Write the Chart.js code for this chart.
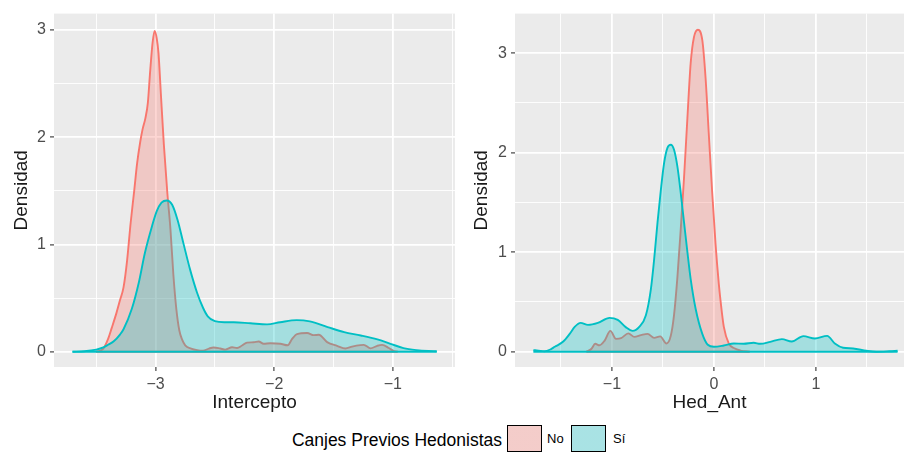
<!DOCTYPE html>
<html>
<head>
<meta charset="utf-8">
<script src="https://cdn.jsdelivr.net/npm/chart.js@4.4.1/dist/chart.umd.min.js"></script>
<style>
  html, body { margin: 0; padding: 0; background: #ffffff; }
  #wrap { position: relative; width: 904px; height: 462px; overflow: hidden;
          font-family: "Liberation Sans", Arial, Helvetica, sans-serif; }
  #c1 { position: absolute; left: 0; top: 0; }
  #c2 { position: absolute; left: 460px; top: 0; }
  .lg { position: absolute; white-space: nowrap; color: #000; }
  .lg-title { font-size: 17.5px; right: 402px; top: 430px; line-height: 20px; }
  .lg-key { width: 33px; height: 25px; top: 425px; border: 1.5px solid #000; }
  .lg-lab { font-size: 13px; top: 431px; line-height: 16px; }
</style>
</head>
<body>
<div id="wrap">
  <canvas id="c1" width="460" height="415"></canvas>
  <canvas id="c2" width="444" height="415"></canvas>
  <div id="legend"></div>
</div>
<script>
// Series colours (ggplot2 default hue palette) and fill transparency
const colNo = '#F8766D';
const colSi = '#00BFC4';
const fillNo = 'rgba(248,118,109,0.3)';
const fillSi = 'rgba(0,191,196,0.3)';

const groups = ['No', 'Sí'];
const legendTitle = 'Canjes Previos Hedonistas';

// Density of Intercepto, group "No"
const interNoX = [-3.50, -3.44, -3.40, -3.37, -3.33, -3.30, -3.27, -3.24, -3.21, -3.18, -3.155, -3.13, -3.11,
  -3.085, -3.065, -3.045, -3.025, -3.008, -2.99, -2.975, -2.955, -2.93, -2.90, -2.875, -2.85, -2.825, -2.80,
  -2.775, -2.75, -2.70, -2.65, -2.60, -2.55, -2.51, -2.454, -2.412, -2.355, -2.313, -2.271, -2.229, -2.173,
  -2.131, -2.089, -2.032, -1.948, -1.886, -1.849, -1.807, -1.722, -1.667, -1.624, -1.554, -1.47, -1.40,
  -1.343, -1.273, -1.245, -1.188, -1.132, -1.09, -1.034, -0.99, -0.96];
const interNoD = [0.00, 0.03, 0.12, 0.22, 0.36, 0.48, 0.60, 0.85, 1.20, 1.50, 1.76, 1.95, 2.07,
  2.18, 2.32, 2.62, 2.88, 2.99, 2.92, 2.78, 2.40, 1.93, 1.47, 1.15, 0.72, 0.40, 0.20,
  0.11, 0.06, 0.03, 0.015, 0.01, 0.03, 0.04, 0.03, 0.02, 0.042, 0.035, 0.058, 0.085, 0.088,
  0.096, 0.074, 0.08, 0.075, 0.06, 0.12, 0.165, 0.175, 0.155, 0.158, 0.09, 0.055, 0.03,
  0.048, 0.062, 0.064, 0.032, 0.055, 0.064, 0.035, 0.006, 0.0];

// Density of Intercepto, group "Sí"
const interSiX = [-3.70, -3.60, -3.50, -3.44, -3.40, -3.35, -3.30, -3.27, -3.20, -3.14, -3.09, -3.03, -2.99,
  -2.95, -2.905, -2.86, -2.815, -2.765, -2.71, -2.65, -2.60, -2.56, -2.50, -2.42, -2.34, -2.20, -2.06, -1.95,
  -1.81, -1.70, -1.55, -1.41, -1.27, -1.13, -1.02, -0.91, -0.80, -0.70, -0.63];
const interSiD = [0.00, 0.005, 0.02, 0.04, 0.065, 0.10, 0.16, 0.21, 0.40, 0.65, 0.92, 1.17, 1.31,
  1.39, 1.41, 1.37, 1.23, 1.01, 0.77, 0.55, 0.41, 0.33, 0.285, 0.275, 0.275, 0.265, 0.255, 0.275,
  0.295, 0.283, 0.23, 0.183, 0.152, 0.115, 0.074, 0.034, 0.015, 0.007, 0.005];

// Density of Hed_Ant, group "No"
const hedNoX = [-1.25, -1.20, -1.164, -1.122, -1.073, -1.015, -0.96, -0.91, -0.839, -0.78, -0.715, -0.65,
  -0.586, -0.527, -0.465, -0.423, -0.391, -0.358, -0.326, -0.293, -0.26, -0.228, -0.196, -0.157, -0.114,
  -0.082, -0.05, -0.017, 0.016, 0.048, 0.064, 0.097, 0.145, 0.20, 0.26, 0.35];
const hedNoD = [0.00, 0.03, 0.08, 0.065, 0.11, 0.21, 0.13, 0.137, 0.185, 0.15, 0.167, 0.18,
  0.14, 0.155, 0.083, 0.16, 0.37, 0.75, 1.22, 1.75, 2.35, 2.90, 3.16, 3.235, 3.13,
  2.75, 2.18, 1.60, 1.08, 0.68, 0.52, 0.25, 0.085, 0.035, 0.012, 0.0];

// Density of Hed_Ant, group "Sí"
const hedSiX = [-1.77, -1.72, -1.66, -1.60, -1.56, -1.48, -1.414, -1.365, -1.307, -1.235, -1.138, -1.024,
  -0.943, -0.862, -0.797, -0.732, -0.667, -0.618, -0.586, -0.553, -0.52, -0.488, -0.455, -0.423, -0.391,
  -0.358, -0.326, -0.293, -0.26, -0.228, -0.179, -0.114, -0.06, 0.0, 0.097, 0.194, 0.292, 0.389, 0.454,
  0.552, 0.666, 0.763, 0.876, 0.99, 1.11, 1.185, 1.266, 1.364, 1.494, 1.591, 1.72, 1.80];
const hedSiD = [0.017, 0.012, 0.005, 0.025, 0.05, 0.10, 0.18, 0.25, 0.29, 0.27, 0.29, 0.34,
  0.32, 0.245, 0.21, 0.25, 0.367, 0.63, 0.93, 1.30, 1.63, 1.90, 2.05, 2.08, 2.03,
  1.86, 1.60, 1.30, 1.00, 0.73, 0.43, 0.18, 0.07, 0.05, 0.063, 0.083, 0.08, 0.09, 0.08,
  0.10, 0.127, 0.103, 0.157, 0.133, 0.16, 0.083, 0.04, 0.033, 0.01, 0.0, 0.005, 0.01];

// Grid positions (integers are major, halves are minor)
const interTicks = [-3.5, -3, -2.5, -2, -1.5, -1, -0.5];
const hedTicks = [-1.5, -1, -0.5, 0, 0.5, 1, 1.5];
const densTicksLeft = [0, 0.5, 1, 1.5, 2, 2.5, 3];
const densTicksRight = [0, 0.5, 1, 1.5, 2, 2.5, 3];

const FONT = '"Liberation Sans", Arial, Helvetica, sans-serif';

const toPoints = (xs, ds) => xs.map((x, i) => ({ x: x, y: ds[i] }));
// bottom edge of each density polygon
const baseEdge = (xs) => [{ x: xs[0], y: 0 }, { x: xs[xs.length - 1], y: 0 }];
const isMajor = (v) => Math.abs(v - Math.round(v)) < 1e-9;
const fmt = (v) => (v < 0 ? '\u2212' + Math.abs(v) : String(v));

const panelBg = {
  id: 'panelBg',
  beforeDraw(chart) {
    const { ctx, chartArea: a } = chart;
    ctx.save();
    ctx.fillStyle = '#EBEBEB';
    ctx.fillRect(a.left, a.top, a.right - a.left, a.bottom - a.top);
    ctx.restore();
  }
};

function gridOpts() {
  return {
    color: '#FFFFFF',
    lineWidth: (c) => (c.tick && isMajor(c.tick.value) ? 1.8 : 0.9),
    drawTicks: true,
    tickLength: 4,
    tickWidth: 1.1,
    tickColor: (c) => (c.tick && isMajor(c.tick.value) ? '#333333' : 'rgba(0,0,0,0)')
  };
}

function densityDatasets(noX, noD, siX, siD) {
  const common = { pointRadius: 0, borderWidth: 1.9, cubicInterpolationMode: 'monotone' };
  return [
    Object.assign({ label: groups[1], data: toPoints(siX, siD), borderColor: colSi,
      backgroundColor: fillSi, fill: 'origin', order: 1 }, common),
    Object.assign({ label: groups[1] + ' base', data: baseEdge(siX), borderColor: colSi,
      fill: false, order: 0 }, common),
    Object.assign({ label: groups[0], data: toPoints(noX, noD), borderColor: colNo,
      backgroundColor: fillNo, fill: 'origin', order: 3 }, common),
    Object.assign({ label: groups[0] + ' base', data: baseEdge(noX), borderColor: colNo,
      fill: false, order: 2 }, common)
  ];
}

function makePanel(canvasId, cfg) {
  return new Chart(document.getElementById(canvasId), {
    type: 'line',
    data: { datasets: densityDatasets(cfg.noX, cfg.noD, cfg.siX, cfg.siD) },
    plugins: [panelBg],
    options: {
      responsive: false,
      animation: false,
      layout: { padding: { top: 12, right: cfg.padRight, bottom: 0, left: 0 } },
      plugins: { legend: { display: false }, tooltip: { enabled: false } },
      scales: {
        x: {
          type: 'linear',
          min: cfg.xMin, max: cfg.xMax,
          afterBuildTicks: (s) => { s.ticks = cfg.xTicks.map((v) => ({ value: v })); },
          afterFit: (s) => { s.height = 48; },
          border: { display: false },
          grid: gridOpts(),
          ticks: {
            autoSkip: false, maxRotation: 0, padding: 4,
            color: '#4D4D4D', font: { family: FONT, size: 16 },
            callback: (v) => (isMajor(v) ? fmt(Math.round(v)) : '')
          },
          title: { display: true, text: cfg.xTitle, color: '#1A1A1A',
            font: { family: FONT, size: 19 }, padding: { top: 0, bottom: 1 } }
        },
        y: {
          type: 'linear',
          min: cfg.yMin, max: cfg.yMax,
          afterBuildTicks: (s) => { s.ticks = cfg.yTicks.map((v) => ({ value: v })); },
          afterFit: (s) => { s.width = cfg.yAxisWidth; },
          border: { display: false },
          grid: gridOpts(),
          ticks: {
            autoSkip: false, padding: 4,
            color: '#4D4D4D', font: { family: FONT, size: 16 },
            callback: (v) => (isMajor(v) ? fmt(Math.round(v)) : '')
          },
          title: { display: true, text: 'Densidad', color: '#1A1A1A',
            font: { family: FONT, size: 19 }, padding: { top: 10, bottom: 0 } }
        }
      }
    }
  });
}

makePanel('c1', {
  noX: interNoX, noD: interNoD, siX: interSiX, siD: interSiD,
  xMin: -3.856, xMax: -0.476, yMin: -0.142, yMax: 3.151,
  xTicks: interTicks, yTicks: densTicksLeft,
  xTitle: 'Intercepto', yAxisWidth: 54, padRight: 5
});

makePanel('c2', {
  noX: hedNoX, noD: hedNoD, siX: hedSiX, siD: hedSiD,
  xMin: -1.95, xMax: 1.863, yMin: -0.153, yMax: 3.397,
  xTicks: hedTicks, yTicks: densTicksRight,
  xTitle: 'Hed_Ant', yAxisWidth: 55, padRight: 0
});

// Legend below the panels
(function buildLegend() {
  const lg = document.getElementById('legend');
  const title = document.createElement('div');
  title.className = 'lg lg-title';
  title.textContent = legendTitle;
  lg.appendChild(title);
  const keyLeft = [507, 571];
  const labLeft = [547, 613];
  const fills = [fillNo, fillSi];
  groups.forEach((g, i) => {
    const key = document.createElement('div');
    key.className = 'lg lg-key';
    key.style.left = keyLeft[i] + 'px';
    key.style.background = 'linear-gradient(' + fills[i] + ',' + fills[i] + '), #F2F2F2';
    lg.appendChild(key);
    const lab = document.createElement('div');
    lab.className = 'lg lg-lab';
    lab.style.left = labLeft[i] + 'px';
    lab.textContent = g;
    lg.appendChild(lab);
  });
})();
</script>
</body>
</html>
